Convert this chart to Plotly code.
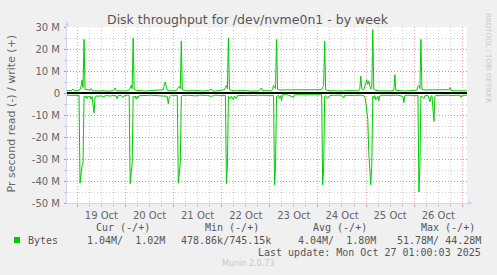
import pandas as pd
import plotly.graph_objects as go

# ---------------- data (MB/s, hours from range start) ----------------
start_time = "2025-10-18 18:52"
end_time = "2025-10-27 02:21"

write_hours = [0, 1, 2, 3, 3.5, 4.5, 5.5, 6.5, 7, 7.5, 8, 8.5, 9, 10, 11.5, 12, 12.5, 13.5, 14.5, 15.5,
               16.5, 17.5, 18.5, 19.5, 20.5, 21.5, 23, 24, 24.5, 26, 27.5, 29, 30.5, 31.5, 32, 32.5, 33, 33.5,
               34.5, 36, 37.5, 39, 40.5, 42, 43.5, 45, 46.5, 48, 48.5, 49, 49.5, 50, 51.5, 53, 54.5, 55.5,
               56, 56.5, 57, 57.5, 58.5, 60, 61.5, 63, 64.5, 66, 67.5, 69, 70.5, 72, 72.5, 74, 75.5, 77,
               78.5, 79, 79.5, 80, 80.5, 81, 82, 83.5, 85, 86.5, 88, 89.5, 91, 92.5, 94, 95.5, 97, 97.5,
               99, 100.5, 102, 102.5, 103, 103.5, 104, 104.5, 105, 106, 110, 113, 113.5, 118, 122, 126,
               127, 127.5, 128, 128.5, 129, 130, 131.5, 133, 134.5, 136, 137.5, 139, 140.5, 142, 143.5,
               145, 146, 146.5, 147, 147.5, 148, 148.5, 149, 149.5, 150, 150.5, 151, 151.5, 152, 152.5,
               153, 154, 155.5, 157, 158.5, 160, 161.5, 163, 163.5, 164, 165.5, 167, 168.5, 170, 171.5,
               173, 174.5, 175, 175.5, 176, 176.5, 177, 178, 181, 184, 187, 190.5, 191, 191.5, 193, 195,
               197, 199, 199.5]
write_mb = [1.1, 1.2, 1.0, 1.8, 1.1, 1.0, 1.2, 1.5, 3.0, 6.0, 2.5, 24.4, 1.6, 1.4, 1.4, 2.0, 1.2, 0.9, 1.1, 0.8,
            1.0, 0.9, 1.1, 0.8, 1.0, 0.9, 1.1, 2.3, 1.0, 0.9, 1.1, 0.9, 1.1, 2.0, 3.5, 2.0, 25.0, 1.6,
            1.2, 1.0, 1.1, 0.9, 1.0, 1.1, 0.9, 1.0, 1.1, 1.5, 3.5, 5.0, 3.0, 1.2, 1.0, 0.9, 1.1, 2.5,
            3.0, 2.0, 23.6, 1.5, 1.1, 1.0, 1.1, 0.9, 1.0, 1.1, 0.9, 1.0, 1.1, 1.8, 1.0, 0.9, 1.1, 1.0,
            1.5, 2.5, 3.5, 2.0, 25.0, 1.6, 1.2, 1.0, 1.1, 0.9, 1.0, 1.1, 0.9, 1.0, 1.1, 0.9, 2.3, 1.0,
            1.1, 0.9, 1.0, 1.5, 3.5, 2.5, 2.0, 24.4, 1.6, 1.4, 1.4, 1.6, 1.4, 1.4, 1.4, 1.4,
            1.5, 2.5, 3.5, 23.5, 1.5, 1.1, 1.0, 0.9, 1.1, 1.0, 0.9, 1.1, 1.0, 0.9, 1.1,
            1.0, 1.5, 7.7, 2.0, 1.3, 1.5, 3.3, 4.5, 6.0, 4.0, 5.5, 3.4, 1.8, 2.5, 28.8,
            1.6, 1.2, 1.0, 0.9, 1.1, 1.0, 0.9, 1.2, 8.3, 1.2, 1.0, 1.1, 0.9, 1.0, 1.1,
            0.9, 1.3, 3.0, 3.5, 2.0, 24.4, 1.6, 1.4, 1.4, 1.4, 1.4, 1.5, 2.5, 1.2, 1.0, 1.1,
            0.9, 1.0, 1.0]

read_hours = [0, 1.5, 3, 4.5, 6, 6.5, 7, 7.5, 8, 8.5, 9, 9.5, 10, 10.5, 11, 11.5, 12, 12.5, 13.5, 14,
              15, 16, 17, 18, 19, 20, 21.5, 23, 24.5, 25, 25.5, 27, 28, 28.5, 30, 31, 31.5, 32, 32.5, 33,
              33.5, 34, 34.5, 35, 35.5, 36, 38, 40, 42, 44, 46, 48, 50, 50.5, 51, 52, 54, 55, 55.5, 56,
              56.5, 57, 57.5, 60, 62, 64, 66, 68, 70, 72, 74, 76, 79, 79.5, 80, 80.5, 81.5, 82, 83, 83.5,
              84.5, 85, 87, 89, 91, 93, 95, 97, 99, 101, 103, 103.5, 104, 104.5, 105.5, 106, 106.5, 107,
              107.5, 110, 113, 113.5, 117, 121, 125, 127, 127.5, 128, 128.5, 129, 130, 131, 133, 135,
              137, 138, 138.5, 140, 142, 144, 146, 147, 148.5, 149, 150, 150.5, 151.5, 152, 152.5, 153,
              153.5, 154, 155, 155.5, 156, 157, 159, 161, 163, 165, 167.5, 168, 168.5, 170, 172, 174,
              175, 175.5, 176, 176.5, 177, 178, 178.5, 180, 181, 181.5, 182, 183, 183.5, 184, 186, 188,
              190, 192, 194, 196, 196.5, 197, 199, 199.5]
read_mb = [-1.0, -1.1, -0.9, -1.0, -1.1, -41.0, -36.0, -33.0, -32.0, -1.5, -2.0, -1.3, -2.5, -1.5, -2.0, -1.4, -2.8, -1.6, -9.0, -1.8,
           -1.3, -1.5, -1.2, -1.8, -1.3, -1.2, -1.4, -1.1, -1.3, -2.6, -1.2, -1.1, -2.0, -1.2, -1.0, -1.1, -41.2, -36.0, -32.0, -1.5,
           -2.0, -1.4, -2.8, -1.5, -2.2, -1.2, -1.0, -1.1, -1.0, -1.1, -1.0, -1.2, -1.5, -4.9, -1.8, -1.0, -1.0, -1.1, -41.0, -35.0,
           -32.0, -1.5, -1.2, -1.0, -1.1, -1.3, -1.0, -1.0, -1.1, -1.5, -1.0, -1.1, -1.1, -41.2, -33.0, -1.5, -2.5, -1.5, -3.0, -1.5,
           -2.5, -1.2, -1.0, -1.1, -1.0, -1.2, -1.0, -1.1, -1.0, -1.1, -1.1, -41.7, -33.0, -1.5, -1.2, -2.5, -1.2, -3.5,
           -0.8, -0.8, -2.0, -0.8, -0.8, -0.8, -0.8, -0.8, -41.7, -34.0, -1.5, -1.2, -2.5, -1.2, -1.0, -1.1,
           -1.0, -2.2, -1.0, -1.1, -1.0, -1.1, -0.8, -1.0, -1.5, -4.2, -12.0, -27.0, -41.7, -33.0, -1.5, -2.5,
           -1.2, -3.0, -1.5, -3.5, -1.3, -1.0, -1.1, -1.0, -1.1, -1.0, -1.5, -4.4, -1.2, -1.0, -1.1, -1.0,
           -1.1, -45.0, -33.0, -1.5, -1.5, -2.5, -1.2, -1.1, -4.0, -1.5, -1.2, -12.9, -1.5, -1.1, -1.0, -1.1,
           -1.0, -1.1, -1.0, -1.0, -2.0, -1.0, -1.0, -1.0]

y_tick_vals = [-50, -40, -30, -20, -10, 0, 10, 20, 30]
y_tick_text = ["-50 M", "-40 M", "-30 M", "-20 M", "-10 M", "0", "10 M", "20 M", "30 M"]

legend_headers = ["Cur (-/+)", "Min (-/+)", "Avg (-/+)", "Max (-/+)"]
legend_values = ["1.04M/  1.02M", "478.86k/745.15k", "4.04M/  1.80M", "51.78M/ 44.28M"]
series_name = "Bytes"
title_text = "Disk throughput for /dev/nvme0n1 - by week"
y_title = "Pr second read (-) / write (+)"
last_update = "Last update: Mon Oct 27 01:00:03 2025"
munin_version = "Munin 2.0.73"
watermark = "RRDTOOL / TOBI OETIKER"

# ---------------- figure ----------------
t0 = pd.Timestamp(start_time)
write_t = [t0 + pd.Timedelta(hours=h) for h in write_hours]
read_t = [t0 + pd.Timedelta(hours=h) for h in read_hours]

GREEN = "#00CC00"
FONT = "#666666"
AXIS = "#CFD6F8"
MGRID = "rgba(240,80,80,0.55)"
GRID = "rgba(150,150,150,0.45)"
DASH = "1px,2px"

fig = go.Figure()
fig.add_trace(go.Scatter(x=read_t, y=read_mb, mode="lines", line=dict(color=GREEN, width=1),
                         showlegend=False, hoverinfo="skip"))
fig.add_trace(go.Scatter(x=write_t, y=write_mb, mode="lines", line=dict(color=GREEN, width=1),
                         showlegend=False, hoverinfo="skip"))

W, H = 497, 275
L, R, T, B = 67, 30, 27, 72
PW, PH = W - L - R, H - T - B


def px(x):
    return (x - L) / PW


def py(y):
    return (H - B - y) / PH


fig.update_layout(
    width=W, height=H,
    margin=dict(l=L, r=R, t=T, b=B, pad=0),
    paper_bgcolor="#F0F0F0", plot_bgcolor="#FFFFFF",
    font=dict(family="DejaVu Sans", size=10, color=FONT),
    showlegend=False,
)

fig.update_xaxes(
    type="date", range=[start_time, end_time],
    tick0="2025-10-19", dtick=86400000, tickformat="%d %b", ticklabelmode="period",
    showgrid=True, gridcolor=MGRID, griddash=DASH, gridwidth=1,
    ticks="outside", ticklen=3, tickcolor=MGRID, tickwidth=1,
    minor=dict(dtick=21600000, showgrid=True, gridcolor=GRID, griddash=DASH, gridwidth=1,
               ticks="outside", ticklen=3, tickcolor=GRID),
    showline=True, linecolor=AXIS, linewidth=1,
    zeroline=False, fixedrange=True,
    tickfont=dict(family="DejaVu Sans", size=10, color=FONT),
)
fig.update_yaxes(
    range=[-50, 30], tickvals=y_tick_vals, ticktext=y_tick_text,
    showgrid=True, gridcolor=MGRID, griddash=DASH, gridwidth=1,
    ticks="outside", ticklen=2, tickcolor=MGRID,
    minor=dict(dtick=5, showgrid=True, gridcolor=GRID, griddash=DASH, gridwidth=1,
               ticks="outside", ticklen=2, tickcolor=GRID),
    showline=True, linecolor=AXIS, linewidth=1,
    zeroline=True, zerolinecolor="#000000", zerolinewidth=2,
    fixedrange=True, ticklabelstandoff=2,
    tickfont=dict(family="DejaVu Sans", size=10, color=FONT),
)

# axis arrows
fig.add_shape(type="path", xref="paper", yref="paper",
              path=f"M {px(64.5)},{py(26.5)} L {px(69.5)},{py(26.5)} L {px(67)},{py(21)} Z",
              fillcolor=AXIS, line=dict(width=0))
fig.add_shape(type="path", xref="paper", yref="paper",
              path=f"M {px(467.5)},{py(200.5)} L {px(467.5)},{py(205.5)} L {px(473)},{py(203)} Z",
              fillcolor=AXIS, line=dict(width=0))

ann = []
ann.append(dict(text=title_text, x=px(248), y=py(19.5), xanchor="center", yanchor="middle",
                font=dict(family="DejaVu Sans", size=12.5, color="#555555")))
ann.append(dict(text=y_title, x=px(11.5), y=py(114), textangle=-90, xanchor="center", yanchor="middle",
                font=dict(family="DejaVu Sans", size=11, color=FONT)))
ann.append(dict(text=watermark, x=px(488), y=py(58), textangle=90, xanchor="center", yanchor="middle",
                font=dict(family="DejaVu Sans", size=7, color="#C8C8C8")))

MONO = "DejaVu Sans Mono"
head_right = [151.5, 260.5, 368.5, 476.5]
val_right = [167, 273, 378, 483]
for txt, xr in zip(legend_headers, head_right):
    ann.append(dict(text=txt, x=px(xr), y=py(227.5), xanchor="right", yanchor="middle",
                    font=dict(family=MONO, size=10, color="#555555")))
for txt, xr in zip(legend_values, val_right):
    ann.append(dict(text=txt, x=px(xr), y=py(240), xanchor="right", yanchor="middle",
                    font=dict(family=MONO, size=10, color="#555555")))
ann.append(dict(text=series_name, x=px(26), y=py(240), xanchor="left", yanchor="middle",
                font=dict(family=MONO, size=10, color="#555555")))
ann.append(dict(text=last_update, x=px(483), y=py(252), xanchor="right", yanchor="middle",
                font=dict(family=MONO, size=10, color="#555555")))
ann.append(dict(text=munin_version, x=px(248), y=py(263.5), xanchor="center", yanchor="middle",
                font=dict(family="DejaVu Sans", size=8, color="#C8C8C8")))
for a in ann:
    a.update(xref="paper", yref="paper", showarrow=False)
fig.update_layout(annotations=ann)

# legend colour square
fig.add_shape(type="rect", xref="paper", yref="paper",
              x0=px(14), x1=px(20), y0=py(243), y1=py(237),
              fillcolor=GREEN, line=dict(width=0))

fig.write_html("out.html")
